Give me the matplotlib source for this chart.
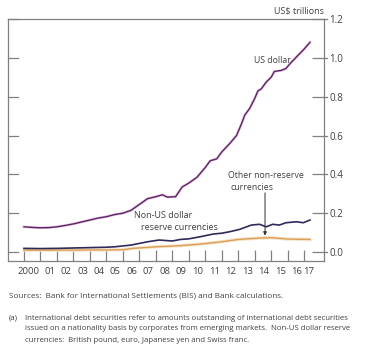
import matplotlib
matplotlib.use("Agg")
import matplotlib.pyplot as plt

# US dollar (US$ trillions)
usd_x = [2000.0, 2000.5, 2001.0, 2001.5, 2002.0, 2002.5, 2003.0, 2003.5, 2004.0, 2004.5,
         2005.0, 2005.5, 2006.0, 2006.5, 2007.0, 2007.5, 2008.0, 2008.4, 2008.7, 2009.2,
         2009.6, 2010.0, 2010.5, 2011.0, 2011.3, 2011.7, 2012.0, 2012.5, 2012.9, 2013.2,
         2013.4, 2013.7, 2014.0, 2014.2, 2014.4, 2014.7, 2015.0, 2015.2, 2015.6, 2015.9,
         2016.2, 2016.6, 2017.0, 2017.36]
usd_y = [0.130, 0.127, 0.125, 0.126, 0.130, 0.137, 0.145, 0.155, 0.165, 0.175,
         0.182, 0.193, 0.200, 0.215, 0.245, 0.275, 0.285, 0.295, 0.283, 0.285,
         0.335, 0.355, 0.385, 0.435, 0.470, 0.480, 0.515, 0.560, 0.600, 0.660,
         0.705, 0.740, 0.790, 0.830, 0.840, 0.875, 0.900, 0.930, 0.935, 0.945,
         0.975, 1.010, 1.045, 1.080]

# Non-US dollar reserve currencies
res_x = [2000.0, 2001.0, 2002.0, 2003.0, 2004.0, 2005.0, 2005.5, 2006.5, 2007.5, 2008.2,
         2009.0, 2009.5, 2010.0, 2010.7, 2011.5, 2012.0, 2012.5, 2013.1, 2013.8, 2014.3,
         2014.7, 2015.1, 2015.5, 2015.9, 2016.55, 2016.95, 2017.36]
res_y = [0.019, 0.018, 0.019, 0.021, 0.023, 0.025, 0.027, 0.036, 0.053, 0.062,
         0.057, 0.065, 0.068, 0.079, 0.093, 0.097, 0.105, 0.117, 0.139, 0.143,
         0.130, 0.143, 0.139, 0.151, 0.156, 0.151, 0.165]

# Other non-reserve currencies
oth_x = [2000.0, 2001.0, 2002.0, 2003.0, 2004.0, 2005.0, 2006.0, 2006.6, 2008.0, 2009.5,
         2010.7, 2012.0, 2013.0, 2014.3, 2015.0, 2016.0, 2017.36]
oth_y = [0.010, 0.010, 0.010, 0.010, 0.011, 0.011, 0.012, 0.019, 0.027, 0.033,
         0.041, 0.053, 0.065, 0.072, 0.074, 0.067, 0.065]

years = list(range(2000, 2018))
year_labels = ["2000"] + ["%02d" % (y % 100) for y in years[1:]]
yticks = [0.0, 0.2, 0.4, 0.6, 0.8, 1.0, 1.2]

grey = "#808080"
txt = "#404040"
plt.rcParams["font.family"] = ["Open Sans", "DejaVu Sans"]

fig = plt.figure(figsize=(3.70, 3.57), dpi=100)
ax = fig.add_axes([8 / 370, 1 - 261 / 357, 316 / 370, 242 / 357])

# lines
ax.plot(usd_x, usd_y, color="#EBC0E8", lw=1.9)
ax.plot(usd_x, usd_y, color="#5A2860", lw=1.0)
ax.plot(oth_x, oth_y, color="#F7E2C8", lw=2.4)
ax.plot(oth_x, oth_y, color="#D9A059", lw=1.0)
ax.plot(res_x, res_y, color="#2F2A5A", lw=1.2)

ax.set_xlim(1999.03, 2018.21)
ax.set_ylim(-0.046, 1.2)

# axes styling
for s in ax.spines.values():
    s.set_color(grey)
    s.set_linewidth(0.9)

ax.yaxis.tick_right()
ax.set_yticks(yticks)
ax.set_yticklabels(["%.1f" % v for v in yticks])
ax.tick_params(axis="y", which="major", direction="in", length=9, width=0.9,
               color=grey, labelsize=7, labelcolor=txt, pad=4)
ytr = ax.get_yaxis_transform()
for v in yticks:
    ax.plot([0, 10 / 316], [v, v], color=grey, lw=0.9, transform=ytr, clip_on=False)
    ax.plot([1, 1 + 3 / 316], [v, v], color=grey, lw=0.9, transform=ytr, clip_on=False)

ax.set_xticks(years)
ax.set_xticklabels([])
ax.tick_params(axis="x", which="major", direction="in", length=8, width=0.9, color=grey)
lab_pos = [2000.3] + [y + 0.55 for y in years[1:-1]] + [2017.3]
ax.set_xticks(lab_pos, minor=True)
ax.set_xticklabels(year_labels, minor=True)
ax.tick_params(axis="x", which="minor", length=0, labelsize=6.8, labelcolor=txt, pad=4)

# labels
ax.text(1.0, 1.015, "US$ trillions", transform=ax.transAxes, ha="right", va="bottom",
        fontsize=6.5, color=txt)
ax.text(2016.2, 0.985, "US dollar", fontsize=6.3, color=txt, ha="right", va="center")
ax.text(2006.7, 0.19, "Non-US dollar", fontsize=6.5, color=txt, ha="left", va="center")
ax.text(2007.1, 0.128, "reserve currencies", fontsize=6.5, color=txt, ha="left", va="center")
ax.text(2014.66, 0.395, "Other non-reserve", fontsize=6.3, color=txt, ha="center", va="center")
ax.text(2013.87, 0.33, "currencies", fontsize=6.3, color=txt, ha="center", va="center")
ax.annotate("", xy=(2014.63, 0.085), xytext=(2014.63, 0.305),
            arrowprops=dict(arrowstyle="-|>", color="#303030", lw=0.7,
                            mutation_scale=5, shrinkA=0, shrinkB=0))

# footer
fig.text(9 / 370, 1 - 296 / 357, "Sources:  Bank for International Settlements (BIS) and Bank calculations.",
         fontsize=5.9, color=txt, va="center")
fig.text(9 / 370, 1 - 318 / 357, "(a)", fontsize=5.6, color=txt, va="center")
notes = ["International debt securities refer to amounts outstanding of international debt securities",
         "issued on a nationality basis by corporates from emerging markets.  Non-US dollar reserve",
         "currencies:  British pound, euro, Japanese yen and Swiss franc."]
for i, line in enumerate(notes):
    fig.text(25 / 370, 1 - (318 + 11 * i) / 357, line, fontsize=5.6, color=txt, va="center")

fig.savefig("out.png", dpi=100)
